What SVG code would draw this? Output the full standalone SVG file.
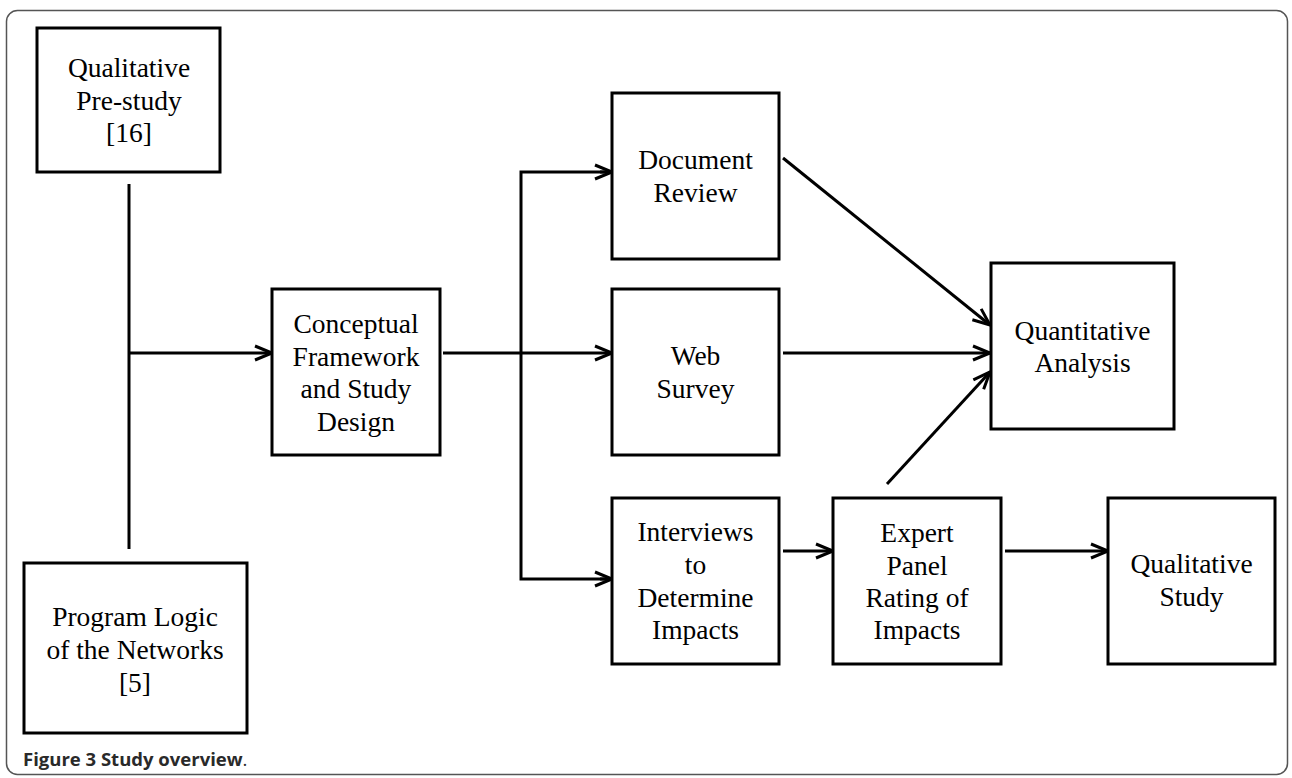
<svg xmlns="http://www.w3.org/2000/svg" width="1292" height="778" viewBox="0 0 1292 778">
  <style>
    .box { fill: #fff; stroke: #000; stroke-width: 3; }
    .lbl { font-family: "Liberation Serif", "Times New Roman", serif; font-size: 27.5px; fill: #000; text-anchor: middle; }
    .con { fill: none; stroke: #000; stroke-width: 3; }
    .cap { font-family: "Open Sans", "Liberation Sans", sans-serif; font-size: 18.5px; fill: #2a2a2a; }
  </style>
  <defs>
    <marker id="arr" markerUnits="userSpaceOnUse" markerWidth="20" markerHeight="18" refX="17" refY="7" orient="auto" overflow="visible">
      <path d="M0,0 L17,7 L0,14" fill="none" stroke="#000" stroke-width="3"/>
    </marker>
  </defs>
  <rect x="6.5" y="10.5" width="1281" height="764" rx="11" fill="#fff" stroke="#555" stroke-width="1.5"/>

  <g id="connectors">
    <line class="con" x1="129" y1="184" x2="129" y2="549"/>
    <line class="con" x1="129" y1="353" x2="272" y2="353" marker-end="url(#arr)"/>
    <line class="con" x1="443" y1="353" x2="612" y2="353" marker-end="url(#arr)"/>
    <polyline class="con" points="612,172 521,172 521,579 612,579" />
    <line class="con" x1="600" y1="172" x2="612" y2="172" marker-end="url(#arr)"/>
    <line class="con" x1="600" y1="579" x2="612" y2="579" marker-end="url(#arr)"/>
    <line class="con" x1="783" y1="158" x2="990" y2="325" marker-end="url(#arr)"/>
    <line class="con" x1="783" y1="353" x2="990" y2="353" marker-end="url(#arr)"/>
    <line class="con" x1="887" y1="484" x2="990" y2="372" marker-end="url(#arr)"/>
    <line class="con" x1="783" y1="551" x2="833" y2="551" marker-end="url(#arr)"/>
    <line class="con" x1="1005" y1="551" x2="1108" y2="551" marker-end="url(#arr)"/>
  </g>

  <g id="prestudy">
    <rect class="box" x="37" y="28" width="183" height="144"/>
    <text class="lbl" x="129" y="77">Qualitative</text>
    <text class="lbl" x="129" y="110">Pre-study</text>
    <text class="lbl" x="129" y="142">[16]</text>
  </g>
  <g id="programlogic">
    <rect class="box" x="24" y="563" width="223" height="170"/>
    <text class="lbl" x="135" y="626">Program Logic</text>
    <text class="lbl" x="135" y="659">of the Networks</text>
    <text class="lbl" x="135" y="692">[5]</text>
  </g>
  <g id="conceptual">
    <rect class="box" x="272" y="289" width="168" height="166"/>
    <text class="lbl" x="356" y="333">Conceptual</text>
    <text class="lbl" x="356" y="366">Framework</text>
    <text class="lbl" x="356" y="398">and Study</text>
    <text class="lbl" x="356" y="431">Design</text>
  </g>
  <g id="document">
    <rect class="box" x="612" y="93" width="167" height="166"/>
    <text class="lbl" x="695.5" y="169">Document</text>
    <text class="lbl" x="695.5" y="202">Review</text>
  </g>
  <g id="websurvey">
    <rect class="box" x="612" y="289" width="167" height="166"/>
    <text class="lbl" x="695.5" y="365">Web</text>
    <text class="lbl" x="695.5" y="398">Survey</text>
  </g>
  <g id="interviews">
    <rect class="box" x="612" y="498" width="167" height="166"/>
    <text class="lbl" x="695.5" y="541">Interviews</text>
    <text class="lbl" x="695.5" y="574">to</text>
    <text class="lbl" x="695.5" y="607">Determine</text>
    <text class="lbl" x="695.5" y="639">Impacts</text>
  </g>
  <g id="expert">
    <rect class="box" x="833" y="498" width="168" height="166"/>
    <text class="lbl" x="917" y="542">Expert</text>
    <text class="lbl" x="917" y="575">Panel</text>
    <text class="lbl" x="917" y="607">Rating of</text>
    <text class="lbl" x="917" y="639">Impacts</text>
  </g>
  <g id="quantitative">
    <rect class="box" x="991" y="263" width="183" height="166"/>
    <text class="lbl" x="1082.5" y="340">Quantitative</text>
    <text class="lbl" x="1082.5" y="372">Analysis</text>
  </g>
  <g id="qualitativestudy">
    <rect class="box" x="1108" y="498" width="167" height="166"/>
    <text class="lbl" x="1191.5" y="573">Qualitative</text>
    <text class="lbl" x="1191.5" y="606">Study</text>
  </g>

  <text class="cap" x="23" y="766"><tspan font-weight="bold">Figure 3 Study overview</tspan>.</text>
</svg>
